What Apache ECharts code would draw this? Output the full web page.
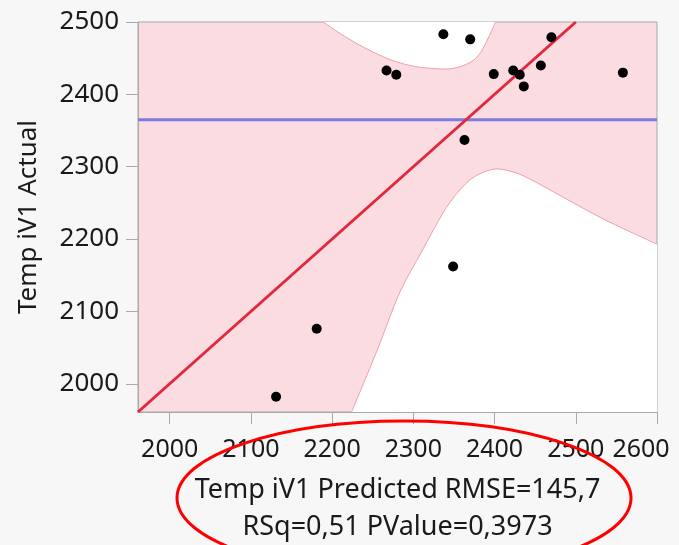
<!DOCTYPE html>
<html>
<head>
<meta charset="utf-8">
<script src="https://cdn.jsdelivr.net/npm/echarts@6/dist/echarts.min.js"></script>
<style>
  html, body { margin: 0; padding: 0; background: #f7f7f7; }
  #chart { width: 679px; height: 545px; }
</style>
</head>
<body>
<div id="chart"></div>
<script>
// ---- data ----
const predicted = [2337, 2370, 2267, 2279, 2399, 2423, 2431, 2436, 2457, 2470, 2558, 2363, 2349, 2181, 2131];
const actual    = [2483, 2476, 2433, 2427, 2428, 2433, 2427, 2411, 2440, 2479, 2430, 2337, 2162, 2076, 1982];

// line of fit (actual = predicted) and mean of actual
const fitX = [1961, 2500];
const fitY = [1961, 2500];
const meanX = [1961, 2600];
const meanY = [2365, 2365];

// upper confidence curve
const upperX = [2189, 2210, 2234, 2257, 2279, 2300, 2321, 2340, 2357, 2374, 2384, 2391, 2396, 2401];
const upperY = [2500, 2484, 2468, 2455, 2445, 2439, 2436, 2435, 2438, 2447, 2460, 2475, 2487, 2500];
// lower confidence curve
const lowerX = [2224, 2255, 2284, 2310, 2337, 2355, 2375, 2403, 2430, 2460, 2489, 2530, 2565, 2600];
const lowerY = [1961, 2045, 2128, 2182, 2237, 2265, 2286, 2297, 2290, 2273, 2255, 2230, 2211, 2193];

const xTicks = [2000, 2100, 2200, 2300, 2400, 2500, 2600];
const yTicks = [2000, 2100, 2200, 2300, 2400, 2500];
const xTitle = 'Temp iV1 Predicted RMSE=145,7\nRSq=0,51 PValue=0,3973';
const yTitle = 'Temp iV1 Actual';

const zip = (a, b) => a.map((v, i) => [v, b[i]]);

const FONT = 'Noto Sans';
const xMaxTick = xTicks[xTicks.length - 1];
const chart = echarts.init(document.getElementById('chart'), null, { renderer: 'canvas' });
chart.setOption({
  backgroundColor: '#f7f7f7',
  animation: false,
  grid: {
    left: 138, right: 22, top: 22, bottom: 133,
    outerBoundsMode: 'none', containLabel: false,
    show: true, backgroundColor: '#fbdce1', borderColor: '#a9a9a9', borderWidth: 1
  },
  xAxis: {
    type: 'value', min: 1961, max: 2600,
    splitLine: { show: false },
    axisLine: { show: true, lineStyle: { color: '#a9a9a9' } },
    axisTick: { show: true, length: 12, customValues: xTicks, lineStyle: { color: '#a9a9a9' } },
    axisLabel: {
      customValues: xTicks, margin: 25, color: '#1a1a1a', fontFamily: FONT, fontSize: 25,
      hideOverlap: false,
      formatter: v => (v === xMaxTick ? '{last|' + v + '}' : String(v)),
      rich: { last: { fontFamily: FONT, fontSize: 25, color: '#1a1a1a', padding: [0, 32, 0, 0] } }
    },
    name: xTitle, nameLocation: 'middle', nameGap: 60,
    nameTextStyle: { color: '#1a1a1a', fontFamily: FONT, fontSize: 27, lineHeight: 37, align: 'center' }
  },
  yAxis: {
    type: 'value', min: 1961, max: 2500,
    splitLine: { show: false },
    axisLine: { show: true, lineStyle: { color: '#a9a9a9' } },
    axisTick: { show: true, length: 12, customValues: yTicks, lineStyle: { color: '#a9a9a9' } },
    axisLabel: { customValues: yTicks, margin: 19, color: '#1a1a1a', fontFamily: FONT, fontSize: 26,
                 formatter: v => String(v) },
    name: yTitle, nameLocation: 'middle', nameGap: 96,
    nameTextStyle: { color: '#1a1a1a', fontFamily: FONT, fontSize: 26 }
  },
  series: [
    {
      name: 'upper', type: 'line', data: zip(upperX, upperY), smooth: 0.3,
      showSymbol: false, symbol: 'none', z: 2,
      lineStyle: { color: '#ee9fae', width: 1 },
      areaStyle: { origin: 'end', color: '#ffffff', opacity: 1 }
    },
    {
      name: 'lower', type: 'line', data: zip(lowerX, lowerY), smooth: 0.3,
      showSymbol: false, symbol: 'none', z: 2,
      lineStyle: { color: '#ee9fae', width: 1 },
      areaStyle: { origin: 'start', color: '#ffffff', opacity: 1 }
    },
    {
      name: 'mean', type: 'line', data: zip(meanX, meanY), symbol: 'none', z: 3,
      lineStyle: { color: '#7b7be0', width: 3 }
    },
    {
      name: 'fit', type: 'line', data: zip(fitX, fitY), symbol: 'none', z: 4,
      lineStyle: { color: '#e3283d', width: 3 }
    },
    {
      name: 'points', type: 'scatter', data: zip(predicted, actual), z: 5,
      symbol: 'circle', symbolSize: 10, itemStyle: { color: '#000000', opacity: 1 }
    }
  ],
  graphic: [
    {
      type: 'ellipse', silent: true, z: 100,
      shape: { cx: 404, cy: 498, rx: 227, ry: 77 },
      style: { fill: 'none', stroke: '#ff0000', lineWidth: 3 }
    }
  ]
});
</script>
</body>
</html>
